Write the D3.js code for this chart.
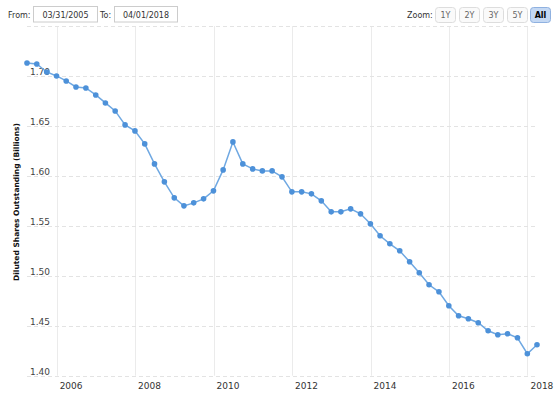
<!DOCTYPE html>
<html>
<head>
<meta charset="utf-8">
<script src="https://cdn.jsdelivr.net/npm/d3@7"></script>
<style>
  body { margin: 0; background: #fff; }
  svg { display: block; font-family: "DejaVu Sans", Verdana, sans-serif; }
</style>
</head>
<body>
<div id="chart"></div>
<script>
// quarterly diluted shares outstanding (billions)
const dates = [
  "2005-03-31", "2005-06-30", "2005-09-30", "2005-12-31",
  "2006-03-31", "2006-06-30", "2006-09-30", "2006-12-31",
  "2007-03-31", "2007-06-30", "2007-09-30", "2007-12-31",
  "2008-03-31", "2008-06-30", "2008-09-30", "2008-12-31",
  "2009-03-31", "2009-06-30", "2009-09-30", "2009-12-31",
  "2010-03-31", "2010-06-30", "2010-09-30", "2010-12-31",
  "2011-03-31", "2011-06-30", "2011-09-30", "2011-12-31",
  "2012-03-31", "2012-06-30", "2012-09-30", "2012-12-31",
  "2013-03-31", "2013-06-30", "2013-09-30", "2013-12-31",
  "2014-03-31", "2014-06-30", "2014-09-30", "2014-12-31",
  "2015-03-31", "2015-06-30", "2015-09-30", "2015-12-31",
  "2016-03-31", "2016-06-30", "2016-09-30", "2016-12-31",
  "2017-03-31", "2017-06-30", "2017-09-30", "2017-12-31",
  "2018-03-31"
];
const shares = [
  1.713, 1.712, 1.704, 1.700,
  1.695, 1.689, 1.688, 1.681,
  1.673, 1.665, 1.651, 1.645,
  1.632, 1.612, 1.594, 1.578,
  1.570, 1.573, 1.577, 1.585,
  1.606, 1.634, 1.612, 1.607,
  1.605, 1.605, 1.599, 1.584,
  1.584, 1.582, 1.575, 1.564,
  1.564, 1.567, 1.562, 1.552,
  1.540, 1.532, 1.525, 1.514,
  1.503, 1.491, 1.484, 1.470,
  1.460, 1.457, 1.453, 1.445,
  1.441, 1.442, 1.438, 1.422,
  1.431
];
const yTicks = [1.40, 1.45, 1.50, 1.55, 1.60, 1.65, 1.70];
const yGridTop = 1.75;
const xTickYears = [2006, 2008, 2010, 2012, 2014, 2016, 2018];
const zoomButtons = ["1Y", "2Y", "3Y", "5Y", "All"];
const fromDate = "03/31/2005";
const toDate = "04/01/2018";

const width = 554, height = 394;
const plot = { left: 27, right: 537, top: 26, bottom: 375.7 };

const parse = d3.timeParse("%Y-%m-%d");
const data = dates.map((d, i) => ({ date: parse(d), value: shares[i] }));

const svg = d3.select("#chart").append("svg")
  .attr("width", width)
  .attr("height", height);

const x = d3.scaleTime()
  .domain(d3.extent(data, d => d.date))
  .range([plot.left, plot.right]);

const y = d3.scaleLinear()
  .domain([1.40, yGridTop])
  .range([plot.bottom, plot.top]);

// header: range inputs + zoom buttons
const header = svg.append("g").attr("font-size", 8).attr("fill", "#333");
header.append("text").attr("x", 8).attr("y", 17.5).text("From:");
header.append("rect").attr("x", 33.5).attr("y", 6.5).attr("width", 64).attr("height", 15.5)
  .attr("fill", "#fff").attr("stroke", "#ccc");
header.append("text").attr("x", 65.5).attr("y", 17.5).attr("text-anchor", "middle").text(fromDate);
header.append("text").attr("x", 100).attr("y", 17.5).text("To:");
header.append("rect").attr("x", 114.5).attr("y", 6.5).attr("width", 63).attr("height", 15.5)
  .attr("fill", "#fff").attr("stroke", "#ccc");
header.append("text").attr("x", 146).attr("y", 17.5).attr("text-anchor", "middle").text(toDate);
header.append("text").attr("x", 407).attr("y", 17.5).text("Zoom:");

const btnX = [435, 459, 483, 507, 530];
const btn = header.selectAll(".btn")
  .data(zoomButtons)
  .enter()
  .append("g")
  .attr("class", "btn")
  .attr("transform", (d, i) => `translate(${btnX[i] + 0.5}, 7.5)`);
btn.append("rect")
  .attr("width", (d, i) => d === "All" ? 20 : 20)
  .attr("height", 15)
  .attr("rx", 3)
  .attr("fill", d => d === "All" ? "#c4d8f3" : "#fafafa")
  .attr("stroke", d => d === "All" ? "#8fb1e0" : "#ddd");
btn.append("text")
  .attr("x", 10)
  .attr("y", 10.5)
  .attr("text-anchor", "middle")
  .attr("fill", d => d === "All" ? "#000" : "#666")
  .attr("font-weight", d => d === "All" ? "bold" : "normal")
  .text(d => d);

// vertical grid (solid) at year ticks
const yearDates = xTickYears.map(yr => new Date(yr, 0, 1));
svg.append("g")
  .selectAll("line")
  .data(yearDates)
  .enter()
  .append("line")
  .attr("x1", d => Math.round(x(d)) + 0.5)
  .attr("x2", d => Math.round(x(d)) + 0.5)
  .attr("y1", plot.top)
  .attr("y2", plot.bottom)
  .attr("stroke", "#ebebeb");

// horizontal grid (dashed)
svg.append("g")
  .selectAll("line")
  .data(yTicks.concat([yGridTop]))
  .enter()
  .append("line")
  .attr("x1", plot.left)
  .attr("x2", plot.right)
  .attr("y1", d => Math.round(y(d)) + 0.5)
  .attr("y2", d => Math.round(y(d)) + 0.5)
  .attr("stroke", "#e3e3e3")
  .attr("stroke-dasharray", "4,3");

// y axis labels, sitting on the grid lines
const yAxis = svg.append("g")
  .attr("transform", "translate(50, 0)")
  .call(d3.axisLeft(y).tickValues(yTicks).tickFormat(d3.format(".2f")).tickSize(0).tickPadding(0));
yAxis.select(".domain").remove();
yAxis.selectAll("text")
  .attr("dy", "-1")
  .attr("font-size", 9)
  .attr("font-family", "DejaVu Sans, sans-serif")
  .attr("fill", "#444");

// x axis labels, just right of each grid line
const xAxis = svg.append("g")
  .attr("transform", "translate(0, 389)")
  .call(d3.axisBottom(x).tickValues(yearDates).tickFormat(d3.timeFormat("%Y")).tickSize(0).tickPadding(0));
xAxis.select(".domain").remove();
xAxis.selectAll("text")
  .attr("text-anchor", "start")
  .attr("x", 2.5)
  .attr("y", 0)
  .attr("dy", 0)
  .attr("font-size", 9)
  .attr("font-family", "DejaVu Sans, sans-serif")
  .attr("fill", "#333");

// y axis title
svg.append("text")
  .attr("transform", `translate(18.5, ${(122 + 282) / 2}) rotate(-90)`)
  .attr("text-anchor", "middle")
  .attr("font-size", 7.5)
  .attr("font-weight", "bold")
  .attr("fill", "#111")
  .text("Diluted Shares Outstanding (Billions)");

// series
const line = d3.line()
  .x(d => x(d.date))
  .y(d => y(d.value));

svg.append("path")
  .datum(data)
  .attr("fill", "none")
  .attr("stroke", "#6fa8e2")
  .attr("stroke-width", 1.5)
  .attr("d", line);

svg.append("g")
  .selectAll("circle")
  .data(data)
  .enter()
  .append("circle")
  .attr("cx", d => x(d.date))
  .attr("cy", d => y(d.value))
  .attr("r", 2.8)
  .attr("fill", "#4d91d9");
</script>
</body>
</html>
